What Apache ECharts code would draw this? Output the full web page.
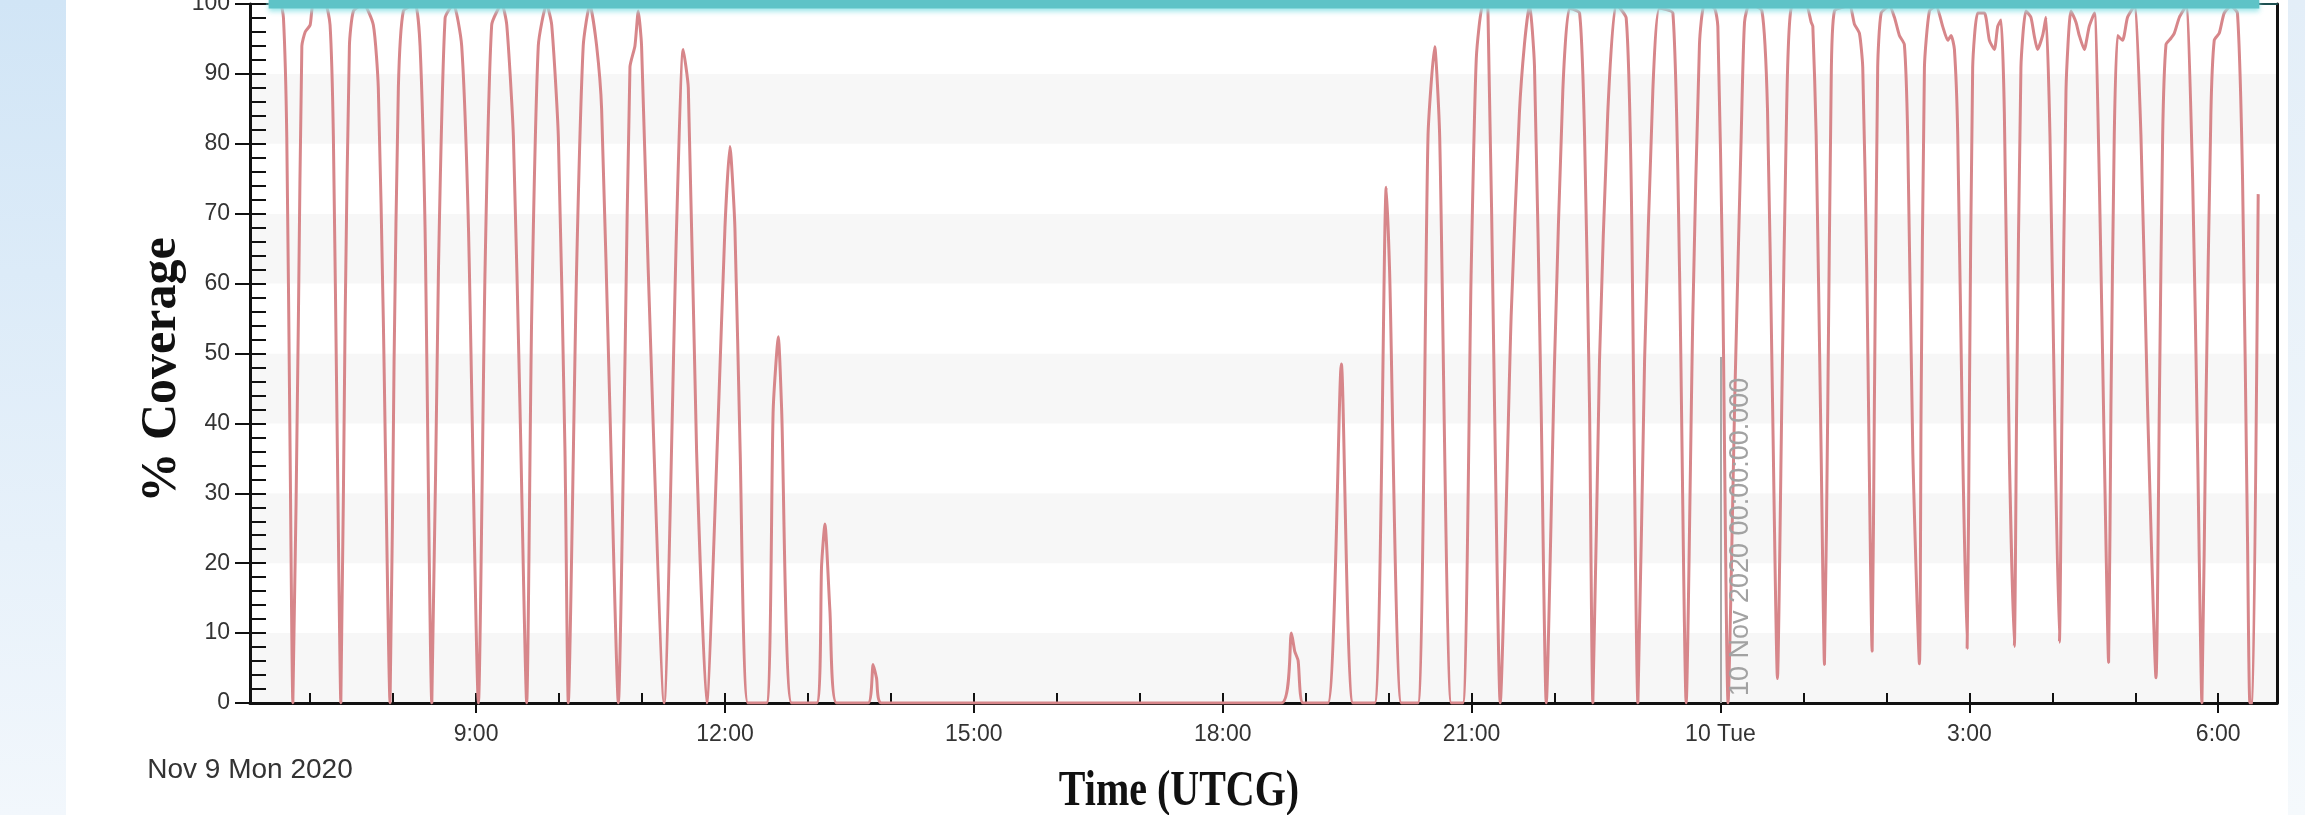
<!DOCTYPE html>
<html>
<head>
<meta charset="utf-8">
<title>% Coverage</title>
<script src="https://cdn.jsdelivr.net/npm/echarts@6/dist/echarts.min.js"></script>
<style>
  html, body { margin: 0; padding: 0; background: #ffffff; }
  #chart { width: 2305px; height: 815px; }
</style>
</head>
<body>
<div id="chart"></div>
<script>
// Sample times, in minutes after 2020-11-09 00:00 UTCG
const sampleMinutes = [
  390.0, 398.3, 400.7, 403.1, 405.5, 407.5, 411.5, 414.0, 416.4, 420.0, 422.4,
  430.8, 434.4, 436.8, 439.7, 442.2, 445.3, 448.4, 451.3, 458.5, 465.7, 469.3, 472.9,
  477.8, 480.7, 483.8, 487.4, 495.9, 499.5, 503.1,
  508.0, 512.8, 517.6, 523.6, 529.6, 534.5,
  541.7, 546.5, 551.3, 558.6, 562.2, 567.0, 571.8,
  576.6, 580.2, 585.0, 591.0, 594.7, 599.5, 604.3,
  606.7, 612.7, 617.5, 622.3, 627.2, 630.8, 636.8,
  642.9, 647.7, 651.3, 654.9, 657.3, 659.7, 664.5,
  676.0, 685.0, 689.8, 693.5, 699.5,
  706.8, 715.0, 720.0, 723.6, 727.2, 731.0,
  736.6, 750.1, 754.9, 758.6, 761.0, 768.2,
  786.3, 789.9, 792.3, 795.9, 800.7,
  823.6, 827.2, 829.6, 833.2,
  1122.4, 1129.7, 1132.1, 1134.5, 1138.1,
  1156.1, 1165.8, 1174.2,
  1189.9, 1198.3, 1200.7, 1209.2,
  1221.2, 1228.5, 1233.3, 1236.9, 1245.3,
  1253.7, 1259.7, 1263.4, 1268.2, 1271.8, 1276.6,
  1280.7, 1288.6, 1294.6, 1298.2, 1301.9, 1305.5, 1310.3,
  1314.0, 1320.0, 1326.0, 1330.8, 1338.1, 1341.7, 1345.3,
  1347.7, 1352.5, 1358.5, 1364.5, 1371.8, 1375.4,
  1380.3, 1385.1, 1391.1, 1395.9, 1405.6, 1410.4,
  1415.2, 1420.0, 1424.8, 1428.5, 1435.7, 1438.1, 1441.5,
  1445.5, 1450.5, 1455.0, 1457.4, 1461.0, 1470.0, 1474.0, 1477.5,
  1481.2, 1484.5, 1487.5, 1491.1, 1502.0, 1505.6, 1506.8, 1509.2, 1512.8,
  1515.2, 1517.6, 1520.0, 1522.4, 1533.3, 1536.9, 1540.5, 1542.9, 1545.8,
  1549.7, 1551.3, 1553.7, 1556.2, 1562.2, 1565.8, 1569.4, 1573.0, 1575.4, 1579.1,
  1583.9, 1585.1, 1587.5, 1591.1, 1595.9, 1600.7, 1604.4, 1606.8, 1609.2, 1611.6, 1615.2,
  1618.4, 1620.0, 1622.4, 1626.0, 1630.9, 1634.5, 1638.1, 1640.5, 1642.9, 1645.3, 1648.9,
  1652.5, 1654.2, 1657.3, 1660.9, 1664.5, 1666.9, 1669.3, 1673.0, 1675.4, 1678.3, 1682.1,
  1685.1, 1687.0, 1689.9, 1693.5, 1697.1, 1699.5, 1703.1, 1706.7, 1710.4, 1714.0, 1717.6,
  1720.7, 1722.4, 1724.8, 1727.2, 1730.8, 1734.4, 1739.3, 1744.1, 1748.9,
  1755.0, 1757.4, 1759.8, 1762.2, 1765.8, 1768.2, 1771.9, 1776.7, 1781.5, 1785.1,
  1788.2, 1791.1, 1794.7, 1797.1, 1800.7, 1804.3, 1809.1, 1813.9, 1817.6, 1821.2,
  1822.9, 1824.8, 1828.9
];

// Percent coverage at each sample time
const coverage = [
  100, 100, 98, 81, 36, 0, 55, 94, 96, 97, 100,
  100, 97, 81, 36, 0, 55, 94, 99, 100, 97, 88, 55,
  0, 49, 88, 99, 100, 94, 68,
  0, 62, 98, 100, 94, 68,
  0, 62, 97, 100, 97, 81, 42,
  0, 55, 94, 100, 97, 81, 36,
  0, 62, 94, 100, 94, 85, 42,
  0, 49, 91, 94, 99, 94, 62,
  0, 68, 93.5, 88, 36,
  0, 40, 68, 79.6, 68, 36,
  0, 0, 42, 52.4, 42, 0,
  0, 19.7, 25.6, 13.3, 0,
  0, 5.5, 3.6, 0,
  0, 10, 7.4, 6.1, 0,
  0, 48.5, 0,
  0, 73.8, 61.8, 0,
  0, 81.2, 93.9, 81.2, 0,
  0, 61.8, 92.2, 100, 99.4, 42.4,
  0, 55.3, 84.5, 94.2, 100, 91, 42.4,
  0, 48.9, 87.7, 99.4, 98.7, 81.2, 42.4,
  0, 48.9, 84.5, 100, 98, 74.8,
  0, 48.9, 87.7, 99.4, 98.7, 61.8,
  0, 55.3, 94.2, 100, 99.4, 96.8, 61.8,
  0, 45, 81.2, 97.4, 100, 99, 85, 45,
  3.5, 45, 81.2, 99.4, 99.7, 97.4, 96.8, 81.2, 35.9,
  5.5, 42.4, 87.7, 99, 99.7, 97.1, 95.8, 90.9, 61.8,
  7.4, 42.4, 90.9, 98.7, 99.7, 98.1, 95.5, 94.2, 81.2, 35.9,
  5.6, 42.4, 90.9, 99, 99.7, 96.8, 94.8, 95.5, 93.5, 81.2, 35.9,
  7.8, 42.4, 90.9, 98.7, 98.7, 94.8, 93.5, 96.8, 97.7, 84.5, 35.9,
  8.1, 42.4, 90.9, 99, 98.1, 95.5, 93.5, 95.5, 98.1, 81.2, 35.9,
  8.7, 42.4, 87.7, 99, 97.4, 95.5, 93.5, 96.8, 98.7, 74.8, 35.9,
  5.8, 42.4, 81.2, 95.5, 94.8, 98.1, 99.7, 81.2, 42.4,
  3.6, 42.4, 81.2, 94.2, 95.1, 95.8, 98.1, 99.7, 74.8, 35.9,
  0, 42.4, 84.5, 94.8, 95.8, 98.7, 99.7, 98.7, 74.8, 23,
  0, 0, 72.8
];

// 100 % reference level over the analysis interval
const limitMinutes = [390.0, 1829.7];
const limitValues = [100, 100];

// Time axis: labelled 3-hour marks and hourly ticks
const labelMinutes = [540, 720, 900, 1080, 1260, 1440, 1620, 1800];
const tickLabels = ['9:00', '12:00', '15:00', '18:00', '21:00', '10 Tue', '3:00', '6:00'];
const hourMinutes = [420, 480, 540, 600, 660, 720, 780, 840, 900, 960, 1020, 1080, 1140,
  1200, 1260, 1320, 1380, 1440, 1500, 1560, 1620, 1680, 1740, 1800];

// Day boundary marker
const dayMarkMinute = 1440;
const dayMarkTop = 49.5;
const dayMarkText = '10 Nov 2020 00:00:00.000';

const axisMin = 376.5;
const axisMax = 1842.5;

const chart = echarts.init(document.getElementById('chart'), null, { renderer: 'canvas', width: 2305, height: 815 });

const ink = '#111111';
const labelFont = 'Arial, "Liberation Sans", sans-serif';
const titleFont = '"Times New Roman", "Liberation Serif", serif';

const stripFill = new echarts.graphic.LinearGradient(0, 0, 0, 1, [
  { offset: 0, color: '#d1e5f6' },
  { offset: 1, color: '#f2f7fc' }
]);
const rightStripFill = new echarts.graphic.LinearGradient(0, 0, 0, 1, [
  { offset: 0, color: '#e3eef8' },
  { offset: 1, color: '#f5f9fc' }
]);

const option = {
  backgroundColor: '#ffffff',
  animation: false,
  grid: { left: 250, right: 28, top: 4, bottom: 112, containLabel: false, outerBoundsMode: 'none' },
  xAxis: [
    {
      type: 'value', min: axisMin, max: axisMax, position: 'bottom',
      axisLine: { show: true, onZero: false, lineStyle: { color: ink, width: 3 } },
      axisTick: { show: true, inside: false, length: 10, customValues: labelMinutes, lineStyle: { color: ink, width: 2 } },
      axisLabel: {
        show: true, customValues: labelMinutes, margin: 20, fontSize: 23, color: '#333333', fontFamily: labelFont,
        formatter: function (v) { const i = labelMinutes.indexOf(v); return i >= 0 ? tickLabels[i] : ''; }
      },
      splitLine: { show: false }
    },
    {
      type: 'value', min: axisMin, max: axisMax, position: 'bottom',
      axisLine: { show: false, onZero: false },
      axisTick: { show: true, inside: true, length: 10, customValues: hourMinutes, lineStyle: { color: ink, width: 2 } },
      axisLabel: { show: false },
      splitLine: { show: false }
    },
    {
      type: 'value', min: axisMin, max: axisMax, position: 'top',
      axisLine: { show: true, onZero: false, lineStyle: { color: '#1d4f50', width: 2 } },
      axisTick: { show: false }, axisLabel: { show: false }, splitLine: { show: false }
    }
  ],
  yAxis: [
    {
      type: 'value', min: 0, max: 100, interval: 10, position: 'left',
      axisLine: { show: true, onZero: false, lineStyle: { color: ink, width: 3 } },
      axisTick: { show: true, inside: false, length: 15, lineStyle: { color: ink, width: 2 } },
      axisLabel: { show: true, margin: 20, fontSize: 23, color: '#333333', fontFamily: labelFont },
      splitLine: { show: false },
      splitArea: { show: true, areaStyle: { color: ['#f7f7f7', '#ffffff'] } }
    },
    {
      type: 'value', min: 0, max: 100, interval: 2, position: 'left',
      axisLine: { show: false, onZero: false },
      axisTick: { show: true, inside: true, length: 16, lineStyle: { color: ink, width: 2 } },
      axisLabel: { show: false }, splitLine: { show: false }
    },
    {
      type: 'value', min: 0, max: 100, position: 'right',
      axisLine: { show: true, onZero: false, lineStyle: { color: ink, width: 3 } },
      axisTick: { show: false }, axisLabel: { show: false }, splitLine: { show: false }
    }
  ],
  series: [
    {
      name: 'Coverage',
      type: 'line',
      xAxisIndex: 0, yAxisIndex: 0,
      data: sampleMinutes.map(function (m, i) { return [m, coverage[i]]; }),
      symbol: 'none', showSymbol: false, smooth: 0.2,
      clip: true, z: 3,
      lineStyle: { color: '#d7868a', width: 3 },
      emphasis: { disabled: true },
      markLine: {
        silent: true, symbol: ['none', 'none'], animation: false,
        lineStyle: { color: '#a9a9a9', width: 2, type: 'solid' },
        label: {
          show: true, position: 'insideStartBottom', distance: 7,
          formatter: dayMarkText, color: '#a2a2a2', fontSize: 27, fontFamily: labelFont
        },
        emphasis: { disabled: true },
        data: [[{ coord: [dayMarkMinute, 0] }, { coord: [dayMarkMinute, dayMarkTop] }]]
      }
    },
    {
      name: 'Maximum',
      type: 'line',
      xAxisIndex: 0, yAxisIndex: 0,
      data: limitMinutes.map(function (m, i) { return [m, limitValues[i]]; }),
      symbol: 'none', showSymbol: false,
      clip: false, z: 4,
      lineStyle: {
        color: '#5ec3c7', width: 9,
        shadowColor: 'rgba(150, 228, 232, 0.9)', shadowBlur: 5, shadowOffsetY: 3
      },
      emphasis: { disabled: true }
    }
  ],
  graphic: [
    { type: 'rect', silent: true, z: -10, shape: { x: 0, y: 0, width: 66, height: 815 }, style: { fill: stripFill } },
    { type: 'rect', silent: true, z: -10, shape: { x: 2288, y: 0, width: 17, height: 815 }, style: { fill: rightStripFill } },
    {
      type: 'text', silent: true, x: 162, y: 370, rotation: Math.PI / 2,
      style: { text: '% Coverage', fill: ink, font: 'bold 50px ' + titleFont, align: 'center', verticalAlign: 'middle', textAlign: 'center', textVerticalAlign: 'middle' }
    },
    {
      type: 'text', silent: true, x: 1179, y: 792, scaleX: 0.8,
      style: { text: 'Time (UTCG)', fill: ink, font: 'bold 50px ' + titleFont, align: 'center', verticalAlign: 'middle', textAlign: 'center', textVerticalAlign: 'middle' }
    },
    {
      type: 'text', silent: true, x: 250, y: 770,
      style: { text: 'Nov 9 Mon 2020', fill: '#333333', font: '28px ' + labelFont, align: 'center', verticalAlign: 'middle', textAlign: 'center', textVerticalAlign: 'middle' }
    }
  ]
};

chart.setOption(option);
</script>
</body>
</html>
